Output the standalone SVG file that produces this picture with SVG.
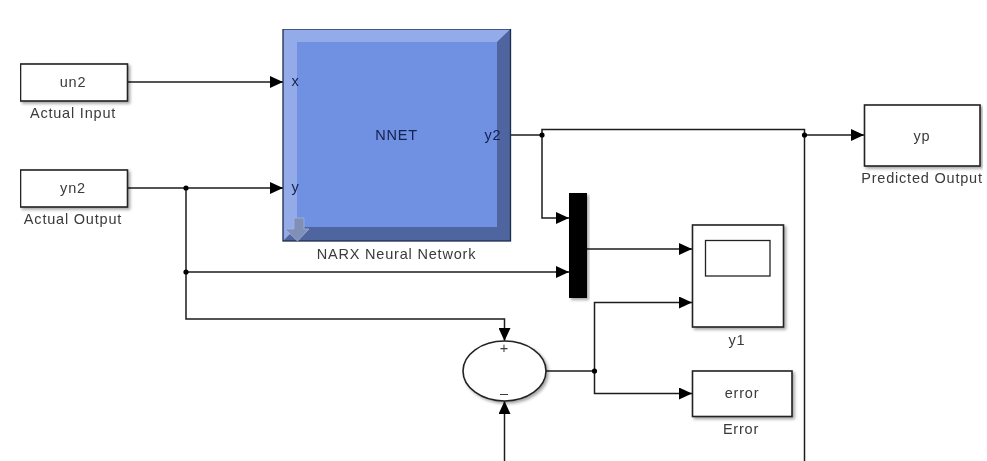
<svg xmlns="http://www.w3.org/2000/svg" width="987" height="461" viewBox="0 0 987 461">
<style>
text{font-family:"Liberation Sans",Arial,sans-serif;font-size:14.5px;letter-spacing:.8px;fill:#3a3a3a;text-anchor:middle}
.b{fill:#fff;stroke:#222;stroke-width:1.6;filter:url(#sh)}
.w{fill:none;stroke:#1a1a1a;stroke-width:1.5}
text.p{fill:#14204f}
text.s{text-anchor:start}
</style>
<defs>
<filter id="sh" x="-15%" y="-15%" width="130%" height="130%"><feDropShadow dx="2" dy="2" stdDeviation="1.500" flood-color="#000" flood-opacity="0.35"/></filter>
<filter id="soft" x="0" y="0" width="100%" height="100%"><feGaussianBlur stdDeviation="0.350"/></filter>
<marker id="a" markerUnits="userSpaceOnUse" markerWidth="13" markerHeight="12" refX="13" refY="6" orient="auto"><path d="M0 0L13 6L0 12Z" fill="#000"/></marker>
</defs>
<rect width="987" height="461" fill="#fff"/>
<g filter="url(#soft)">
<g id="connectors">
<path class="w" d="M127.500 82H283" marker-end="url(#a)"/>
<path class="w" d="M127.500 188H283" marker-end="url(#a)"/>
<path class="w" d="M186 188V319H504.500V341" marker-end="url(#a)"/>
<path class="w" d="M186 272H569" marker-end="url(#a)"/>
<path class="w" d="M510.500 135H542"/>
<path class="w" d="M542 135V129.500H804.500V135"/>
<path class="w" d="M804.500 135H864" marker-end="url(#a)"/>
<path class="w" d="M804.500 135V461"/>
<path class="w" d="M542 135V218H569" marker-end="url(#a)"/>
<path class="w" d="M587 249H692" marker-end="url(#a)"/>
<path class="w" d="M546 371H594.500"/>
<path class="w" d="M594.500 371V302.500H692" marker-end="url(#a)"/>
<path class="w" d="M594.500 371V393.500H692" marker-end="url(#a)"/>
<path class="w" d="M504.500 461V401" marker-end="url(#a)"/>
<circle cx="186" cy="188" r="2.600"/><circle cx="186" cy="272" r="2.600"/><circle cx="542" cy="135" r="2.600"/><circle cx="804.500" cy="135" r="2.600"/><circle cx="594.500" cy="371" r="2.600"/>
</g>
<g id="un2"><rect class="b" x="20.500" y="64" width="107" height="37"/><text x="73" y="87">un2</text><text x="73" y="118">Actual Input</text></g>
<g id="yn2"><rect class="b" x="20.500" y="170" width="107" height="37"/><text x="73" y="193">yn2</text><text x="73" y="224">Actual Output</text></g>
<g id="nnet">
<rect x="283" y="29" width="227.500" height="212" fill="#6f90e2"/>
<path d="M283 29H510.500L497 42H297V227L283 241Z" fill="#93ace9"/>
<path d="M510.500 29V241H283L297 227H497V42Z" fill="#50659f"/>
<rect x="283" y="29" width="227.500" height="212" fill="none" stroke="#1f2b4d" stroke-width="1.300"/>
<path d="M294 218H304V229H309L297.500 241L285 229H294Z" fill="#7f8fb8" stroke="#a5b3d6" stroke-width="0.800"/>
<text class="p s" x="291.500" y="86">x</text>
<text class="p s" x="291.500" y="192">y</text>
<text class="p" x="396.500" y="140">NNET</text>
<text class="p" x="493" y="140">y2</text>
<text x="396.500" y="259">NARX Neural Network</text>
</g>
<g id="mux"><rect x="569" y="193" width="18" height="105" fill="#000" filter="url(#sh)"/></g>
<g id="scope"><rect class="b" x="692.500" y="225" width="91" height="102"/><rect x="705.500" y="240.500" width="64.500" height="35.500" fill="#fff" stroke="#222" stroke-width="1.300"/><text x="737" y="345">y1</text></g>
<g id="sum"><ellipse class="b" cx="504.500" cy="371" rx="41.500" ry="30"/><text x="504.500" y="353">+</text><text x="504.500" y="398">–</text></g>
<g id="error"><rect class="b" x="692.500" y="371" width="99.500" height="45.500"/><text x="742" y="398">error</text><text x="741" y="434">Error</text></g>
<g id="yp"><rect class="b" x="864.500" y="105" width="115.500" height="61"/><text x="922" y="141">yp</text><text x="922" y="183">Predicted Output</text></g>
</g>
</svg>
